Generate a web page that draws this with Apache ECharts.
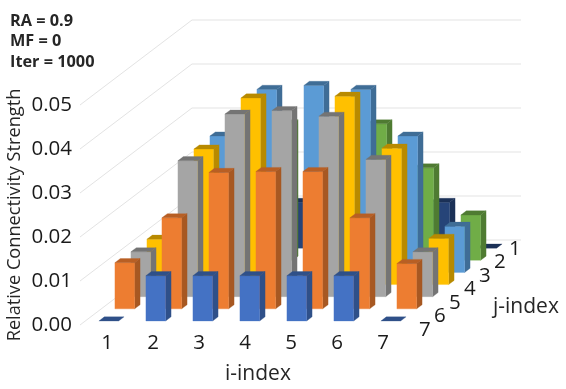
<!DOCTYPE html>
<html>
<head>
<meta charset="utf-8">
<style>
  html, body { margin: 0; padding: 0; background: #fff; }
  #chart { width: 566px; height: 389px; }
</style>
<script src="https://cdn.jsdelivr.net/npm/echarts@6/dist/echarts.min.js"></script>
</head>
<body>
<div id="chart"></div>
<script>
const iLabels = ['1', '2', '3', '4', '5', '6', '7'];
const jLabels = ['1', '2', '3', '4', '5', '6', '7'];
const yTicks = [0, 0.01, 0.02, 0.03, 0.04, 0.05];

// one row per j-index
const rowJ1 = [0, 0.0104, 0.0104, 0.0104, 0.0104, 0.0104, 0];
const rowJ2 = [0.0103, 0.0207, 0.031, 0.0312, 0.031, 0.021, 0.0103];
const rowJ3 = [0.0103, 0.031, 0.0416, 0.0425, 0.0416, 0.031, 0.0105];
const rowJ4 = [0.0103, 0.0308, 0.0424, 0, 0.0428, 0.031, 0.0105];
const rowJ5 = [0.0102, 0.0309, 0.0415, 0.0423, 0.041, 0.0312, 0.0102];
const rowJ6 = [0.0105, 0.0207, 0.031, 0.0312, 0.0312, 0.0207, 0.0103];
const rowJ7 = [0, 0.0103, 0.0103, 0.0103, 0.0103, 0.0103, 0];
const rows = [rowJ1, rowJ2, rowJ3, rowJ4, rowJ5, rowJ6, rowJ7];

// front, side and top colour per j-index
const jColors = [
  ['#264478', '#1b3157', '#1b3157'],
  ['#70ad47', '#4f7b32', '#4f7b32'],
  ['#5b9bd5', '#3f6d96', '#3f6d96'],
  ['#ffc000', '#b88a00', '#b88a00'],
  ['#a5a5a5', '#747474', '#747474'],
  ['#ed7d31', '#a75822', '#b85f24'],
  ['#4472c4', '#2f5089', '#2f5089']
];

// oblique projection, one j step moves right and up on the page
const depthX = 16 / 47;
const depthY = 0.00276;
const barW = 0.42;
const barD = 0.34;
const depthCount = 7;

function project(api, i, depth, v) {
  return api.coord([i + depth * depthX, v + depth * depthY]);
}

const barData = [];
rows.forEach((row, jIdx) => {
  row.forEach((v, iIdx) => {
    barData.push([iIdx + 1, jIdx + 1, v]);
  });
});

function renderBar(params, api) {
  const i = api.value(0);
  const j = api.value(1);
  const v = api.value(2);
  const colors = jColors[j - 1];
  const x0 = i - barW / 2;
  const x1 = i + barW / 2;
  const d0 = 7 - j + (1 - barD) / 2;
  const d1 = d0 + barD;
  const children = [];
  const poly = (points, fill) => ({
    type: 'polygon',
    shape: { points: points },
    style: { fill: fill, stroke: fill, lineWidth: 0.3 }
  });
  if (v > 0) {
    children.push(poly([
      project(api, x1, d0, 0), project(api, x1, d1, 0),
      project(api, x1, d1, v), project(api, x1, d0, v)
    ], colors[1]));
    children.push(poly([
      project(api, x0, d0, 0), project(api, x1, d0, 0),
      project(api, x1, d0, v), project(api, x0, d0, v)
    ], colors[0]));
  }
  children.push(poly([
    project(api, x0, d0, v), project(api, x1, d0, v),
    project(api, x1, d1, v), project(api, x0, d1, v)
  ], colors[2]));
  return { type: 'group', children: children };
}

function renderWall(params, api) {
  const v = api.value(0);
  return {
    type: 'polyline',
    shape: {
      points: [
        project(api, 0.5, 0, v),
        project(api, 0.5, depthCount, v),
        project(api, 7.5, depthCount, v)
      ]
    },
    style: { fill: null, stroke: '#e3e3e3', lineWidth: 1 }
  };
}

function renderJLabel(params, api) {
  const j = api.value(0);
  const p = api.coord([7.84 + (7 - j) * 0.319, -0.00114 + (7 - j) * 0.00307]);
  return {
    type: 'text',
    x: p[0],
    y: p[1],
    style: {
      text: jLabels[j - 1],
      fontFamily: 'Open Sans',
      fontSize: 20.5,
      fill: '#1a1a1a',
      align: 'center',
      verticalAlign: 'middle'
    }
  };
}

const chart = echarts.init(document.getElementById('chart'));

chart.setOption({
  animation: false,
  backgroundColor: '#fff',
  title: [
    {
      text: 'RA = 0.9\nMF = 0\nIter = 1000',
      left: 5,
      top: 6,
      textStyle: { fontFamily: 'Open Sans', fontSize: 16.3, fontWeight: 'bold', color: '#262626', lineHeight: 20.5 }
    },
    {
      text: 'i-index',
      left: 220,
      top: 359,
      textStyle: { fontFamily: 'Open Sans', fontSize: 21, fontWeight: 'normal', color: '#262626' }
    },
    {
      text: 'j-index',
      left: 488,
      top: 292,
      textStyle: { fontFamily: 'Open Sans', fontSize: 21, fontWeight: 'normal', color: '#262626' }
    }
  ],
  grid: [
    { left: 80, width: 329, top: 105, bottom: 64, outerBoundsMode: 'none' },
    { left: 84, width: 322, top: 105, bottom: 64, outerBoundsMode: 'none' }
  ],
  xAxis: [
    { type: 'value', gridIndex: 0, min: 0.5, max: 7.5, show: false },
    {
      type: 'category',
      gridIndex: 1,
      data: iLabels,
      axisLine: { show: false },
      axisTick: { show: false },
      axisLabel: { fontFamily: 'Open Sans', fontSize: 20.5, color: '#1a1a1a', margin: 8 }
    }
  ],
  yAxis: [
    {
      type: 'value',
      gridIndex: 0,
      min: yTicks[0],
      max: yTicks[yTicks.length - 1],
      interval: 0.01,
      name: 'Relative Connectivity Strength',
      nameLocation: 'middle',
      nameGap: 56,
      nameMoveOverlap: false,
      nameTextStyle: { fontFamily: 'Open Sans', fontSize: 18.2, color: '#262626' },
      axisLine: { show: false },
      axisTick: { show: false },
      splitLine: { show: false },
      axisLabel: {
        fontFamily: 'Open Sans',
        fontSize: 20.5,
        color: '#1a1a1a',
        margin: 8,
        padding: [4, 0, 0, 0],
        formatter: (v) => v.toFixed(2)
      }
    },
    { type: 'value', gridIndex: 1, show: false }
  ],
  series: [
    {
      type: 'custom',
      name: 'walls',
      xAxisIndex: 0,
      yAxisIndex: 0,
      silent: true,
      z: 1,
      data: yTicks.map((v) => [v]),
      encode: { y: 0 },
      renderItem: renderWall
    },
    {
      type: 'custom',
      name: 'bars',
      xAxisIndex: 0,
      yAxisIndex: 0,
      silent: true,
      z: 2,
      data: barData,
      encode: { x: 0, y: 2 },
      renderItem: renderBar
    },
    {
      type: 'custom',
      name: 'j labels',
      xAxisIndex: 0,
      yAxisIndex: 0,
      silent: true,
      z: 3,
      data: jLabels.map((t) => [Number(t)]),
      encode: { y: 0 },
      renderItem: renderJLabel
    }
  ]
});
</script>
</body>
</html>
